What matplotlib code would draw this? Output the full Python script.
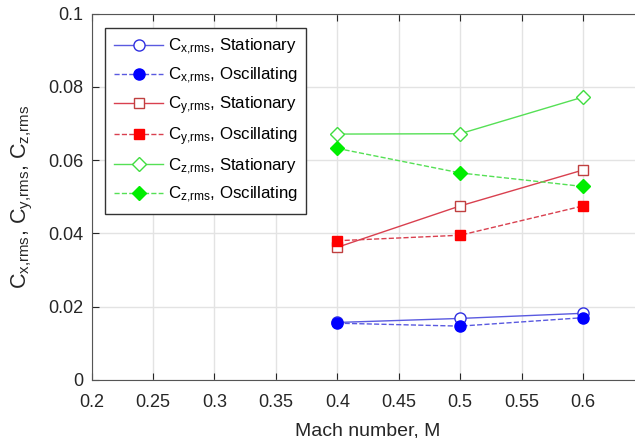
import matplotlib
matplotlib.use("Agg")
import matplotlib.pyplot as plt

plt.rcParams["font.family"] = ["Liberation Sans", "DejaVu Sans"]
plt.rcParams["mathtext.default"] = "regular"

mach = [0.4, 0.5, 0.6]
cx_stat = [0.0157, 0.0168, 0.0182]
cx_osc = [0.0155, 0.0147, 0.0170]
cy_stat = [0.0362, 0.0475, 0.0573]
cy_osc = [0.0380, 0.0395, 0.0475]
cz_stat = [0.0671, 0.0672, 0.0772]
cz_osc = [0.0632, 0.0565, 0.0528]

fig = plt.figure(figsize=(6.35, 4.38), dpi=100)
ax = fig.add_axes([91.5 / 635, 58 / 438, 553 / 635, 366.5 / 438])

blue_line = "#5a5ae0"
red_line = "#d9404f"
green_line = "#55e055"

ax.plot(mach, cx_stat, "-o", color=blue_line, mfc="white", mec="#3030e0",
        ms=8, lw=1, label="$C_{x{,}rms}$, Stationary", zorder=3)
ax.plot(mach, cx_osc, "--o", color=blue_line, mfc="#0000ff", mec="#0000ff",
        ms=8, lw=1, label="$C_{x{,}rms}$, Oscillating", zorder=4)
ax.plot(mach, cy_stat, "-s", color=red_line, mfc="white", mec="#c04040",
        ms=6.5, lw=1, label="$C_{y{,}rms}$, Stationary", zorder=3)
ax.plot(mach, cy_osc, "--s", color=red_line, mfc="#ff0000", mec="#ff0000",
        ms=6.5, lw=1, label="$C_{y{,}rms}$, Oscillating", zorder=4)
ax.plot(mach, cz_stat, "-D", color=green_line, mfc="white", mec="#40dd40",
        ms=7.5, lw=1, label="$C_{z{,}rms}$, Stationary", zorder=3)
ax.plot(mach, cz_osc, "--D", color=green_line, mfc="#00ee00", mec="#00ee00",
        ms=7.5, lw=1, label="$C_{z{,}rms}$, Oscillating", zorder=4)

ax.set_xlim(0.2, 0.65)
ax.set_ylim(0, 0.1)
ax.set_xticks([0.2, 0.25, 0.3, 0.35, 0.4, 0.45, 0.5, 0.55, 0.6])
ax.set_xticklabels(["0.2", "0.25", "0.3", "0.35", "0.4", "0.45", "0.5", "0.55", "0.6"])
ax.set_yticks([0, 0.02, 0.04, 0.06, 0.08, 0.1])
ax.set_yticklabels(["0", "0.02", "0.04", "0.06", "0.08", "0.1"])
ax.grid(True, color="#e3e3e3", lw=1)
ax.set_axisbelow(True)
ax.tick_params(direction="in", length=5, labelsize=13, colors="#262626",
               top=True, right=False)
ax.tick_params(axis="x", pad=10)
ax.tick_params(axis="y", pad=6)
for s in ax.spines.values():
    s.set_color("#555555")
ax.spines["right"].set_visible(False)

ax.set_xlabel("Mach number, M", fontsize=14, color="#262626", labelpad=8)
ax.set_ylabel("$C_{x{,}rms}$, $C_{y{,}rms}$, $C_{z{,}rms}$", fontsize=15.5,
              color="#262626", labelpad=9)

leg = ax.legend(loc="upper left", bbox_to_anchor=(0.0253, 0.960), borderaxespad=0,
                fontsize=12.2, handlelength=2.9, labelspacing=0.5, fancybox=False,
                framealpha=1, edgecolor="#333333", borderpad=0.5, handletextpad=0.3)
leg.get_frame().set_linewidth(1)

fig.savefig("out.png", dpi=100)
